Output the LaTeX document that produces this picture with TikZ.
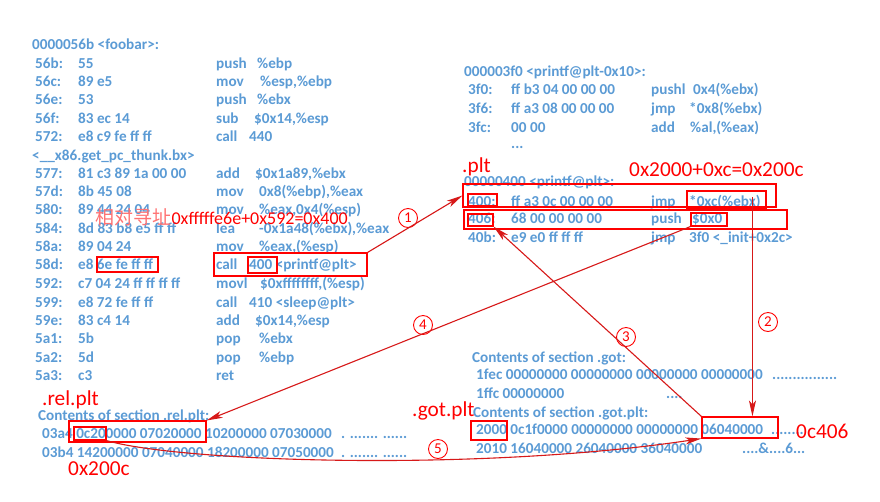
\documentclass[tikz,border=0pt]{standalone}
\usepackage{fontspec}
\setmainfont{Carlito}
\newfontfamily\cjkfont{Noto Sans CJK SC}
\usetikzlibrary{arrows.meta,fit,calc}
\definecolor{codeblue}{RGB}{91,155,213}
\definecolor{mark}{RGB}{255,0,0}
\definecolor{arrred}{RGB}{215,25,25}
\def\cA{35}\def\cB{78}\def\cC{216}
\newcommand\asmrow[7]{%
  \node[code] (#1a) at (\cA,#2) {#3};
  \node[code] (#1b) at (\cB,#2) {#4};
  \node[code] (#1c) at (\cC,#2) {#5};
  \node[code] (#1d) at (#6,#2) {#7};}
\begin{document}
\begin{tikzpicture}[x=1pt,y=-1pt,
  code/.style={anchor=base west,inner sep=0,text=codeblue,font=\fontsize{15.2}{18}\selectfont\bfseries},
  lbl/.style={anchor=base west,inner sep=0,text=mark,font=\fontsize{21.3}{25}\selectfont},
  rbox/.style={draw=mark,line width=1.1pt,inner sep=0,rectangle},
  arr/.style={draw=arrred,line width=1.1pt,-{Stealth[length=16pt,width=7pt,inset=4pt]}},
  num/.style={circle,draw=mark,text=mark,line width=0.9pt,minimum size=19pt,inner sep=0,font=\fontsize{15}{15}\selectfont}]
\useasboundingbox[fill=white] (0,0) rectangle (880,501);

% ---- left: foobar ----
\node[code] (fhead) at (32,49) {0000056b <foobar>:};
\asmrow{l1}{68}{56b:}{55}{push}{257}{\%ebp}
\asmrow{l2}{86}{56c:}{89 e5}{mov}{260}{\%esp,\%ebp}
\asmrow{l3}{104}{56e:}{53}{push}{257}{\%ebx}
\asmrow{l4}{123}{56f:}{83 ec 14}{sub}{254}{\$0x14,\%esp}
\asmrow{l5}{141}{572:}{e8 c9 fe ff ff}{call}{249}{440}
\node[code] (thunk) at (32,160) {<\_\_x86.get\_pc\_thunk.bx>};
\asmrow{l6}{178}{577:}{81 c3 89 1a 00 00}{add}{255}{\$0x1a89,\%ebx}
\asmrow{l7}{196}{57d:}{8b 45 08}{mov}{259}{0x8(\%ebp),\%eax}
\asmrow{l8}{214}{580:}{89 44 24 04}{mov}{259}{\%eax,0x4(\%esp)}
\asmrow{l9}{233}{584:}{8d 83 b8 e5 ff ff}{lea}{259}{-0x1a48(\%ebx),\%eax}
\asmrow{l10}{251}{58a:}{89 04 24}{mov}{259}{\%eax,(\%esp)}
\asmrow{l11}{269}{58d:}{e8 6e fe ff ff}{call}{249}{400 <printf@plt>}
\asmrow{l12}{288}{592:}{c7 04 24 ff ff ff ff}{movl}{260}{\$0xffffffff,(\%esp)}
\asmrow{l13}{307}{599:}{e8 72 fe ff ff}{call}{249}{410 <sleep@plt>}
\asmrow{l14}{325}{59e:}{83 c4 14}{add}{255}{\$0x14,\%esp}
\asmrow{l15}{343}{5a1:}{5b}{pop}{259}{\%ebx}
\asmrow{l16}{362}{5a2:}{5d}{pop}{259}{\%ebp}
\node[code] (l17a) at (35,380) {5a3:};
\node[code] (l17b) at (78,380) {c3};
\node[code] (l17c) at (216,380) {ret};

% ---- right: plt ----
\def\cA{468}\def\cB{511}\def\cC{651}
\node[code] (phead) at (464,76) {000003f0 <printf@plt-0x10>:};
\asmrow{p1}{94}{3f0:}{ff b3 04 00 00 00}{pushl}{693}{0x4(\%ebx)}
\asmrow{p2}{113}{3f6:}{ff a3 08 00 00 00}{jmp}{689}{*0x8(\%ebx)}
\asmrow{p3}{132}{3fc:}{00 00}{add}{690}{\%al,(\%eax)}
\node[code] (pdots) at (511,148) {...};
\node[code] (qhead) at (464,186) {00000400 <printf@plt>:};
\asmrow{q1}{206}{400:}{ff a3 0c 00 00 00}{jmp}{689}{*0xc(\%ebx)}
\asmrow{q2}{223}{406:}{68 00 00 00 00}{push}{692}{\$0x0}
\asmrow{q3}{242}{40b:}{e9 e0 ff ff ff}{jmp}{689}{3f0 <\_init+0x2c>}

% ---- got ----
\node[code] (ghead) at (472,362) {Contents of section .got:};
\node[code] (g1) at (476,379) {1fec 00000000 00000000 00000000 00000000};
\node[code] (g1d) at (772,379) {................};
\node[code] (g2) at (476,398) {1ffc 00000000};
\node[code] (g2d) at (666,398) {....};
\node[code] (gphead) at (473,417) {Contents of section .got.plt:};
\node[code] (gp1) at (476,434) {2000 0c1f0000 00000000 00000000 06040000};
\node[code] (gp1d) at (771,434) {........};
\node[code] (gp2) at (476,453) {2010 16040000 26040000 36040000};
\node[code] (gp2d) at (742,453) {....\&....6...};

% ---- rel.plt ----
\node[code] (rhead) at (38,420) {Contents of section .rel.plt:};
\node[code] (r1) at (42,438) {03a4 0c200000 07020000 10200000 07030000};
\node[code] (r1d) at (341,438) {. ....... ......};
\node[code] (r2) at (42,457) {03b4 14200000 07040000 18200000 07050000};
\node[code] (r2d) at (341,457) {. ....... ......};

% ---- red labels ----
\node[lbl] (tplt) at (462,172) {.plt};
\node[lbl] (tcalc) at (629,176) {0x2000+0xc=0x200c};
\node[lbl] (trel) at (42,405) {.rel.plt};
\node[lbl] (t200c) at (68,475) {0x200c};
\node[lbl] (tgot) at (412,416) {.got.plt};
\node[lbl] (t0c406) at (796,438) {0c406};
\node[anchor=base west,inner sep=0,text=mark!55,font=\fontsize{19}{22}\selectfont\cjkfont] (tcn) at (95,224) {相对寻址};
\node[anchor=base west,inner sep=0,text=mark,font=\fontsize{18}{22}\selectfont] (tcn2) at (tcn.base east) {0xfffffe6e+0x592=0x400};

% ---- boxes ----
\node[rbox,fit={(97,257) (158,272)}] (b6e) {};
\node[rbox,fit={(214,253) (367,276)}] (bcall) {};
\node[rbox,fit={(248,257) (277,273)}] (b400c) {};
\node[rbox,fit={(463,184) (776,207)}] (b400line) {};
\node[rbox,fit={(468,194) (497,206)}] (b400a) {};
\node[rbox,fit={(687,191) (766,208)}] (b0xc) {};
\node[rbox,fit={(464,210) (787,229)}] (b406line) {};
\node[rbox,fit={(468,214) (493,226)}] (b406a) {};
\node[rbox,fit={(691,213) (727,226)}] (b0x0) {};
\node[rbox,fit={(69,421) (206,442)}] (brel) {};
\node[rbox,fit={(74,427) (106,440)}] (b0c20) {};
\node[rbox,fit={(471,421) (507,440)}] (b2000) {};
\node[rbox,fit={(702,417) (778,438)}] (b0604) {};

% ---- step numbers ----
\node[num] (n1) at (408,218) {1};
\node[num] (n2) at (768,322) {2};
\node[num] (n3) at (626,337) {3};
\node[num] (n4) at (423,325) {4};
\node[num] (n5) at (438,449) {5};

% ---- arrows ----
\draw[arr] (bcall.north east) -- (b400line.west);
\draw[arr] ($(b0xc.north west)+(66,7)$) -- ($(b0604.north west)+(51,0)$);
\draw[arr] (b0604.north west) -- (b406a.south east);
\draw[arr] (b0x0.south west) -- (brel.north east);
\draw[arr] (b0c20.south east) .. controls (180,462) and (480,472) .. (b0604.south west);
\end{tikzpicture}
\end{document}
